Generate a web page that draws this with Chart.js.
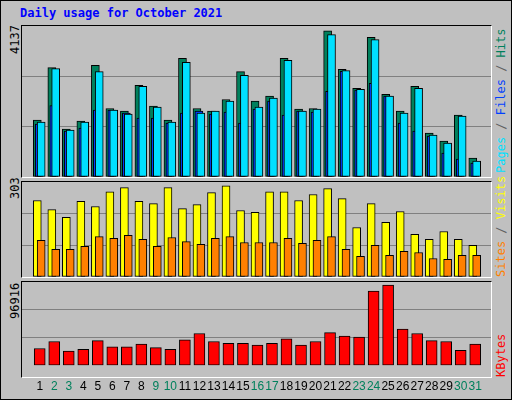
<!DOCTYPE html>
<html>
<head>
<meta charset="utf-8">
<script src="https://cdn.jsdelivr.net/npm/chart.js@4"></script>
<style>
  body { margin: 0; }
  #wrap { position: relative; width: 510px; height: 398px; background: #c0c0c0; border: 1px solid #000; overflow: hidden; }
  .panel { position: absolute; left: 20px; width: 469px; background: #c0c0c0;
           border-top: 1px solid #000; border-left: 1px solid #000; border-right: 1px solid #fff; border-bottom: 1px solid #fff; }
  canvas { position: absolute; }
  .rot { position: absolute; transform-origin: 0 0; transform: rotate(-90deg); white-space: nowrap;
         font: 12px "DejaVu Sans Mono", monospace; }
  #title { position: absolute; left: 19px; top: 5px; font: bold 12px "DejaVu Sans Mono", monospace; color: #0000ff; }
</style>
</head>
<body>
<div id="wrap">
  <div id="title">Daily usage for October 2021</div>
  <div class="panel" style="top:24px;height:151px"></div>
  <div class="panel" style="top:180px;height:95px"></div>
  <div class="panel" style="top:280px;height:95px"></div>
  <canvas id="cTop" width="469" height="151" style="left:21px;top:25px"></canvas>
  <canvas id="cMid" width="469" height="95" style="left:21px;top:181px"></canvas>
  <canvas id="cBot" width="469" height="118" style="left:21px;top:281px"></canvas>
  <div class="rot" style="left:7px;top:53px">4137</div>
  <div class="rot" style="left:7px;top:198px">303</div>
  <div class="rot" style="left:7px;top:318px">96916</div>
  <div class="rot" style="left:493px;top:172px"><span style="color:#00e0ff">Pages</span><span style="color:#606060"> / </span><span style="color:#0040ff">Files</span><span style="color:#606060"> / </span><span style="color:#00805c">Hits</span></div>
  <div class="rot" style="left:493px;top:276px"><span style="color:#ff8000">Sites</span><span style="color:#606060"> / </span><span style="color:#ffff00">Visits</span></div>
  <div class="rot" style="left:493px;top:376px"><span style="color:#ff0000">KBytes</span></div>
</div>
<script>
// Data (October 2021)
const days = Array.from({ length: 31 }, (_, i) => i + 1);
const weekends = [2, 3, 9, 10, 16, 17, 23, 24, 30, 31];
const hits = [1558, 2997, 1312, 1530, 3061, 1877, 1804, 2514, 1940, 1558, 3252, 1877, 1804, 2123, 2888, 2077,
  2214, 3252, 1858, 1877, 4008, 2952, 2432, 3826, 2268, 1804, 2487, 1203, 984, 1694, 519];
const files = [1448, 1959, 1257, 1339, 1831, 1831, 1749, 1612, 1612, 1476, 1749, 1804, 1722, 1776, 1476, 1858,
  2077, 1694, 1804, 1776, 2350, 2897, 2378, 2569, 2214, 1476, 1257, 1121, 656, 492, 383];
const pages = [1503, 2970, 1285, 1503, 2888, 1831, 1722, 2487, 1913, 1503, 3143, 1749, 1804, 2077, 2788, 1913,
  2159, 3198, 1804, 1858, 3899, 2915, 2405, 3762, 2214, 1749, 2432, 1148, 929, 1667, 437];
const visits = [244, 215, 190, 241, 225, 272, 285, 241, 234, 285, 218, 231, 269, 291, 212, 206,
  272, 272, 244, 263, 282, 250, 158, 234, 174, 209, 136, 120, 145, 120, 101];
const sites = [117, 88, 88, 98, 129, 123, 133, 120, 98, 126, 113, 104, 123, 129, 110, 110,
  110, 123, 107, 117, 129, 88, 66, 101, 69, 82, 78, 59, 56, 69, 69];
const kbytes = [19778, 27962, 16709, 18755, 28985, 21824, 21824, 24893, 20801, 18755, 30008, 37169, 27962, 25916, 25916, 23870,
  25916, 31031, 23870, 27962, 38192, 34100, 33077, 86273, 93434, 42284, 37169, 28985, 27962, 17732, 24893];
const maxes = { top: 4137, mid: 303, bot: 96916 };

const PX = 15;                 // pixels per day
const base = 1 - 8 / PX;       // day 1 centred 8px into the plot
const W = 469 / PX;

function xAxis(shiftPx, show) {
  const min = base - shiftPx / PX;
  return {
    type: 'linear', min, max: min + W, display: !!show,
    grid: { display: false }, border: { display: false },
    afterBuildTicks: s => { s.ticks = days.map(v => ({ value: v })); },
    ticks: {
      autoSkip: false, maxRotation: 0, padding: 6,
      font: { family: 'Liberation Sans', size: 12 },
      color: c => weekends.includes(c.tick.value) ? '#00805c' : '#000',
      callback: v => String(v)
    }
  };
}

function yAxis(max) {
  return {
    min: 0, max,
    afterFit: s => { s.width = 0; },
    afterBuildTicks: s => { s.ticks = [0, max / 3, 2 * max / 3, max].map(v => ({ value: v })); },
    ticks: { display: false },
    grid: { drawTicks: false, color: c => (c.index === 1 || c.index === 2) ? '#808080' : 'rgba(0,0,0,0)' },
    border: { display: false }
  };
}

function ds(values, color, axis, width) {
  return {
    data: values.map((v, i) => ({ x: days[i], y: v })),
    backgroundColor: color, borderColor: '#000', borderWidth: 1,
    borderSkipped: false, barThickness: width, grouped: false, xAxisID: axis
  };
}

function make(id, datasets, scales) {
  return new Chart(document.getElementById(id), {
    type: 'bar',
    data: { datasets },
    options: {
      responsive: false, animation: false,
      layout: { padding: 0 },
      plugins: { legend: { display: false }, tooltip: { enabled: false } },
      scales
    }
  });
}

make('cTop', [
  ds(pages, '#00e0ff', 'xp', 8),
  ds(files, '#0040ff', 'xf', 8),
  ds(hits, '#00805c', 'xh', 8)
], { xp: xAxis(4), xf: xAxis(2), xh: xAxis(0), y: yAxis(maxes.top) });

make('cMid', [
  ds(sites, '#ff8000', 'xs', 8),
  ds(visits, '#ffff00', 'xv', 8)
], { xs: xAxis(4), xv: xAxis(0), y: yAxis(maxes.mid) });

make('cBot', [
  ds(kbytes, '#ff0000', 'xk', 11)
], { xk: xAxis(2.5, true), y: yAxis(maxes.bot) });
</script>
</body>
</html>
